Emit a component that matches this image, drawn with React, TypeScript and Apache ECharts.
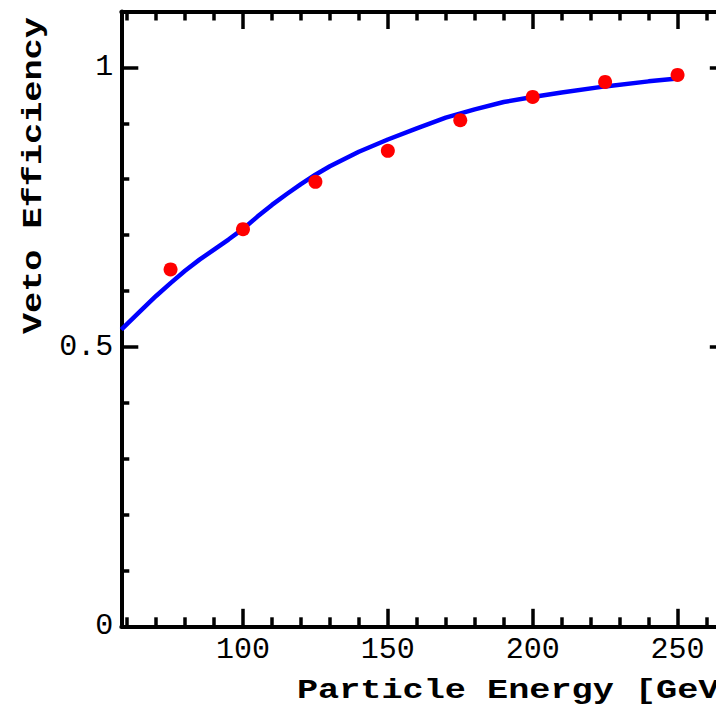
import React, { useEffect, useRef } from "react";
import * as echarts from "echarts";

// Measured points (red markers)
const energy = [75, 100, 125, 150, 175, 200, 225, 250];
const efficiency = [0.6385, 0.7106, 0.7952, 0.8507, 0.9056, 0.9472, 0.974, 0.9866];

// Fitted curve (blue line)
const fitEnergy = [58, 65, 70, 75, 80, 85, 90, 95, 100, 105, 110, 115, 120, 125, 130, 140, 150, 160, 170, 180, 190, 200, 210, 225, 240, 250];
const fitEfficiency = [0.531, 0.566, 0.591, 0.614, 0.636, 0.656, 0.674, 0.692, 0.711, 0.733, 0.754, 0.773, 0.791, 0.808, 0.823, 0.849, 0.871, 0.891, 0.91, 0.925, 0.938, 0.947, 0.955, 0.966, 0.975, 0.98];

// Axis ticks and labels
const xMajorTicks = [100, 150, 200, 250];
const xMinorTicks = [60, 70, 80, 90, 110, 120, 130, 140, 160, 170, 180, 190, 210, 220, 230, 240, 260];
const yMajorTicks = [0, 0.5, 1];
const yMinorTicks = [0.1, 0.2, 0.3, 0.4, 0.6, 0.7, 0.8, 0.9];
const xMin = 58;
const xMax = 267;
const yMin = 0;
const yMax = 1.1;

const xTitle = "Particle Energy [GeV]";
const yTitle = "Veto Efficiency";

const MONO = '"Liberation Mono", "Courier New", monospace';

function makeAxis(
  dim: "x" | "y",
  position: string,
  ticks: number[],
  len: number,
  showLine: boolean,
  labels: number[] | null
) {
  return {
    type: "value",
    position,
    min: dim === "x" ? xMin : yMin,
    max: dim === "x" ? xMax : yMax,
    gridIndex: 0,
    axisLine: { show: showLine, onZero: false, lineStyle: { color: "#000", width: 4 } },
    axisTick: {
      show: true,
      inside: true,
      length: len,
      customValues: ticks,
      lineStyle: { color: "#000", width: 3.5 },
    },
    axisLabel: labels
      ? {
          show: true,
          customValues: labels,
          color: "#000",
          fontFamily: MONO,
          fontSize: 30,
          margin: dim === "x" ? 9 : 8,
        }
      : { show: false },
    splitLine: { show: false },
    minorTick: { show: false },
  };
}

export default function App() {
  const ref = useRef<HTMLDivElement>(null);

  useEffect(() => {
    if (!ref.current) return;
    const chart = echarts.init(ref.current, null, { renderer: "svg" });
    const option = {
      animation: false,
      backgroundColor: "#fff",
      grid: { left: 121.3, top: 11.5, width: 605.5, height: 614.8, containLabel: false },
      xAxis: [
        makeAxis("x", "bottom", xMinorTicks, 9, true, xMajorTicks),
        makeAxis("x", "bottom", xMajorTicks, 17.5, false, null),
        makeAxis("x", "top", xMinorTicks, 9, true, null),
        makeAxis("x", "top", xMajorTicks, 17.5, false, null),
      ],
      yAxis: [
        makeAxis("y", "left", yMinorTicks, 8, true, yMajorTicks),
        makeAxis("y", "left", yMajorTicks, 17, false, null),
        makeAxis("y", "right", yMinorTicks, 8, true, null),
        makeAxis("y", "right", yMajorTicks, 17, false, null),
      ],
      series: [
        {
          type: "line",
          xAxisIndex: 0,
          yAxisIndex: 0,
          data: fitEnergy.map((x, i) => [x, fitEfficiency[i]]),
          showSymbol: false,
          smooth: false,
          lineStyle: { color: "#0000ff", width: 4.5 },
          z: 2,
        },
        {
          type: "scatter",
          xAxisIndex: 0,
          yAxisIndex: 0,
          data: energy.map((x, i) => [x, efficiency[i]]),
          symbol: "circle",
          symbolSize: 14,
          itemStyle: { color: "#ff0000", opacity: 1 },
          z: 3,
        },
      ],
      graphic: [
        {
          type: "text",
          x: 297,
          y: 691,
          scaleX: 1.28,
          style: {
            text: xTitle,
            font: `bold 27.5px ${MONO}`,
            fill: "#000",
            textAlign: "left",
            textVerticalAlign: "middle",
            align: "left",
            verticalAlign: "middle",
          },
        },
        {
          type: "text",
          x: 33.7,
          y: 334,
          rotation: Math.PI / 2,
          scaleX: 1.28,
          style: {
            text: yTitle,
            font: `bold 27.5px ${MONO}`,
            fill: "#000",
            textAlign: "left",
            textVerticalAlign: "middle",
            align: "left",
            verticalAlign: "middle",
          },
        },
      ],
    };
    chart.setOption(option as any);
    return () => chart.dispose();
  }, []);

  return (
    <div
      ref={ref}
      style={{ position: "fixed", left: 0, top: 0, width: 760, height: 708, background: "#fff" }}
    />
  );
}
